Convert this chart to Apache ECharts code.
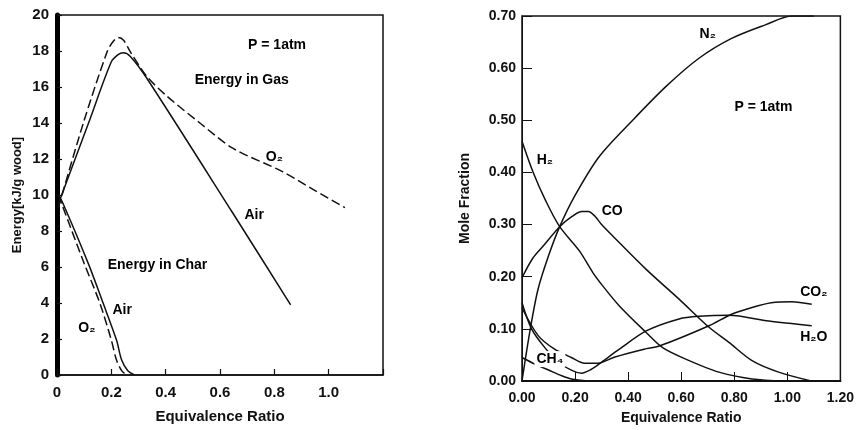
<!DOCTYPE html>
<html>
<head>
<meta charset="utf-8">
<script src="https://cdn.jsdelivr.net/npm/echarts@6/dist/echarts.min.js"></script>
<style>
  html, body {margin: 0; padding: 0; background: #fff;}
  #main {width: 857px; height: 430px;}
</style>
</head>
<body>
<div id="main"></div>
<script>
// left panel: energy vs equivalence ratio  [ratio, kJ/g wood]
const gasAir = [[0.005,9.5],[0.121,14.2],[0.2,17.4],[0.225,17.8],[0.244,17.9],[0.27,17.7],[0.33,16.5],[0.647,9.0],[0.86,3.9]];
const gasO2 = [[0.005,9.3],[0.097,14.0],[0.183,17.9],[0.205,18.5],[0.225,18.75],[0.245,18.6],[0.27,17.95],[0.33,16.6],[0.404,15.5],[0.526,14.0],[0.647,12.6],[0.83,11.3],[0.955,10.2],[1.06,9.3]];
const charAir = [[0.005,10.0],[0.023,9.5],[0.115,6.2],[0.17,3.98],[0.219,1.94],[0.238,0.83],[0.26,0.25],[0.285,0]];
const charO2 = [[0.005,10.0],[0.02,9.4],[0.1,6.2],[0.158,3.98],[0.2,1.94],[0.219,0.83],[0.24,0.2],[0.26,0]];
const leftNotes = [[0.81,18.3,'P = 1atm'],[0.68,16.4,'Energy in Gas'],[0.80,12.1,'O₂'],[0.726,8.9,'Air'],
                   [0.37,6.1,'Energy in Char'],[0.24,3.6,'Air'],[0.11,2.6,'O₂']];

// right panel: mole fraction vs equivalence ratio
const n2 = [[0,0],[0.03,0.096],[0.06,0.175],[0.1,0.24],[0.142,0.296],[0.2,0.356],[0.292,0.431],[0.417,0.5],[0.543,0.565],[0.667,0.619],[0.79,0.657],[0.917,0.683],[1.017,0.70],[1.1,0.70]];
const h2 = [[0,0.46],[0.043,0.399],[0.09,0.345],[0.142,0.296],[0.217,0.249],[0.267,0.208],[0.305,0.182],[0.367,0.144],[0.468,0.093],[0.53,0.064],[0.617,0.042],[0.742,0.017],[0.867,0.004],[0.99,0]];
const co = [[0,0.198],[0.04,0.235],[0.08,0.259],[0.142,0.296],[0.19,0.316],[0.225,0.325],[0.25,0.325],[0.275,0.316],[0.3,0.3],[0.342,0.278],[0.468,0.214],[0.592,0.157],[0.705,0.103],[0.78,0.074],[0.867,0.039],[0.967,0.017],[1.09,0]];
const co2 = [[0,0.14],[0.061,0.087],[0.12,0.062],[0.186,0.045],[0.236,0.034],[0.286,0.034],[0.35,0.046],[0.46,0.061],[0.517,0.067],[0.705,0.106],[0.79,0.128],[0.867,0.141],[0.94,0.15],[1.017,0.152],[1.092,0.147]];
const h2o = [[0,0.15],[0.036,0.1],[0.086,0.064],[0.14,0.035],[0.19,0.02],[0.224,0.015],[0.26,0.022],[0.3,0.036],[0.367,0.061],[0.468,0.096],[0.592,0.119],[0.667,0.124],[0.78,0.126],[0.93,0.115],[1.092,0.106]];
const ch4 = [[0,0.045],[0.05,0.032],[0.1,0.021],[0.15,0.01],[0.186,0.004],[0.25,0]];
const rightNotes = [[0.70,0.665,'N₂'],[0.91,0.526,'P = 1atm'],[0.086,0.424,'H₂'],[0.34,0.325,'CO'],
                    [1.10,0.17,'CO₂'],[1.10,0.084,'H₂O']];
const ch4Note = [[0.105,0.042,'CH₄']];

const FONT = '"Liberation Sans", Arial, sans-serif';
const INK = '#111';

function curve(data, xi, dashed) {
    return {
        type: 'line', xAxisIndex: xi, yAxisIndex: xi, data: data,
        symbol: 'none', smooth: 0.3, silent: true,
        lineStyle: {color: INK, width: 1.5, type: dashed ? [9, 4] : 'solid'}
    };
}
function notes(data, xi, size, bg) {
    return {
        type: 'scatter', xAxisIndex: xi, yAxisIndex: xi, data: data,
        symbolSize: 0, silent: true, z: 5,
        itemStyle: {opacity: 1, color: INK},
        label: {
            show: true, position: 'inside', formatter: p => p.data[2],
            color: '#000', opacity: 1, fontFamily: FONT, fontSize: size, fontWeight: 'bold',
            backgroundColor: bg || 'transparent', padding: bg ? [1, 2] : 0
        }
    };
}

const myChart = echarts.init(document.getElementById('main'));
const option = {
    animation: false,
    backgroundColor: '#fff',
    grid: [
        {left: 57, top: 15, width: 326, height: 360, show: true, borderColor: INK, borderWidth: 1.5},
        {left: 522, top: 16, width: 320, height: 366, show: true, borderColor: INK, borderWidth: 1.5}
    ],
    xAxis: [
        {
            gridIndex: 0, type: 'value', min: 0, max: 1.2, interval: 0.2,
            name: 'Equivalence Ratio', nameLocation: 'middle', nameGap: 34,
            nameTextStyle: {color: INK, fontFamily: FONT, fontSize: 15, fontWeight: 'bold'},
            axisLine: {lineStyle: {color: INK, width: 1.5}},
            axisTick: {inside: true, length: 6, lineStyle: {color: INK, width: 1.2}},
            axisLabel: {color: INK, fontFamily: FONT, fontSize: 15, fontWeight: 'bold', margin: 10,
                formatter: v => v === 0 ? '0' : (v > 1.1 ? '' : v.toFixed(1))},
            splitLine: {show: false}
        },
        {
            gridIndex: 1, type: 'value', min: 0, max: 1.2, interval: 0.2,
            name: 'Equivalence Ratio', nameLocation: 'middle', nameGap: 30,
            nameTextStyle: {color: INK, fontFamily: FONT, fontSize: 14, fontWeight: 'bold'},
            axisLine: {lineStyle: {color: INK, width: 2}},
            axisTick: {inside: true, length: 9, lineStyle: {color: INK, width: 1}},
            axisLabel: {color: INK, fontFamily: FONT, fontSize: 14, fontWeight: 'bold', margin: 10,
                formatter: v => v.toFixed(2)},
            splitLine: {show: false}
        }
    ],
    yAxis: [
        {
            gridIndex: 0, type: 'value', min: 0, max: 20, interval: 2,
            name: 'Energy[kJ/g wood]', nameLocation: 'middle', nameGap: 33,
            nameTextStyle: {color: INK, fontFamily: FONT, fontSize: 13, fontWeight: 'bold'},
            axisLine: {lineStyle: {color: '#000', width: 5}},
            axisTick: {inside: true, length: 5, lineStyle: {color: INK, width: 1.2}},
            axisLabel: {color: INK, fontFamily: FONT, fontSize: 15, fontWeight: 'bold', margin: 8},
            splitLine: {show: false}
        },
        {
            gridIndex: 1, type: 'value', min: 0, max: 0.7, interval: 0.1,
            name: 'Mole Fraction', nameLocation: 'middle', nameGap: 50,
            nameTextStyle: {color: INK, fontFamily: FONT, fontSize: 14, fontWeight: 'bold'},
            axisLine: {lineStyle: {color: INK, width: 1}},
            axisTick: {inside: true, length: 10, lineStyle: {color: INK, width: 1}},
            axisLabel: {color: INK, fontFamily: FONT, fontSize: 14, fontWeight: 'bold', margin: 6,
                formatter: v => v.toFixed(2)},
            splitLine: {show: false}
        }
    ],
    series: [
        curve(gasAir, 0, false), curve(gasO2, 0, true),
        curve(charAir, 0, false), curve(charO2, 0, true),
        notes(leftNotes, 0, 14, null),
        curve(n2, 1, false), curve(h2, 1, false), curve(co, 1, false),
        curve(co2, 1, false), curve(h2o, 1, false), curve(ch4, 1, false),
        notes(rightNotes, 1, 14, null),
        notes(ch4Note, 1, 14, '#fff')
    ]
};
myChart.setOption(option);
</script>
</body>
</html>
